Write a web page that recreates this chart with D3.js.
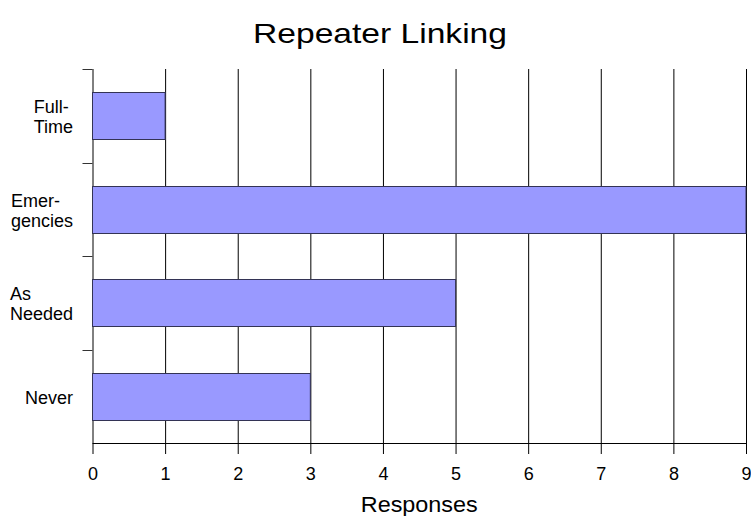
<!DOCTYPE html>
<html>
<head>
<meta charset="utf-8">
<script src="https://cdn.jsdelivr.net/npm/d3@7"></script>
<style>
  html, body { margin: 0; padding: 0; background: #fff; }
  svg { display: block; font-family: "Liberation Sans", Arial, sans-serif; }
</style>
</head>
<body>
<svg id="chart" width="751" height="516"></svg>
<script>
const categories = ["Full-Time", "Emergencies", "As Needed", "Never"];
const categoryLabels = [["Full-", "Time"], ["Emer-", "gencies"], ["As", "Needed"], ["Never"]];
const values = [1, 9, 5, 3];
const xTicks = [0, 1, 2, 3, 4, 5, 6, 7, 8, 9];
const title = "Repeater Linking";
const xTitle = "Responses";

const svg = d3.select("#chart");
const margin = { left: 92.5, right: 5, top: 69, bottom: 73 };
const W = 751, H = 516;
const plotL = margin.left, plotR = W - margin.right, plotT = margin.top, plotB = H - margin.bottom;

const x = d3.scaleLinear().domain([0, 9]).range([plotL, plotR]);
const y = d3.scaleBand().domain(categories).range([plotT, plotB]).paddingInner(0.5).paddingOuter(0.25);

// title
svg.append("text")
  .attr("x", 380).attr("y", 43)
  .attr("text-anchor", "middle")
  .attr("font-size", 28)
  .attr("textLength", 254)
  .attr("lengthAdjust", "spacingAndGlyphs")
  .attr("fill", "#000")
  .text(title);

// x axis with grid
const xAxis = svg.append("g")
  .attr("transform", `translate(0,${plotB})`)
  .call(d3.axisBottom(x).tickValues(xTicks).tickFormat(d3.format("d")).tickSize(11).tickSizeOuter(0).tickPadding(13));
xAxis.select(".domain").remove();
xAxis.selectAll(".tick line")
  .attr("y1", -(plotB - plotT)).attr("y2", 11)
  .attr("stroke", "#000").attr("stroke-width", 1);
xAxis.selectAll(".tick text")
  .attr("font-size", 18).attr("font-family", "Liberation Sans, Arial, sans-serif").attr("fill", "#000");

// bottom axis line
svg.append("line")
  .attr("x1", plotL).attr("x2", plotR)
  .attr("y1", plotB + 0.5).attr("y2", plotB + 0.5)
  .attr("stroke", "#000");

// y band boundary ticks
const gap = (y.step() - y.bandwidth()) / 2;
svg.append("g").selectAll("line")
  .data(categories)
  .join("line")
  .attr("x1", plotL - 10).attr("x2", plotL)
  .attr("y1", d => Math.round(y(d) - gap) + 0.5)
  .attr("y2", d => Math.round(y(d) - gap) + 0.5)
  .attr("stroke", "#333");

// bars
svg.append("g").selectAll("rect")
  .data(categories)
  .join("rect")
  .attr("x", x(0))
  .attr("y", d => Math.round(y(d)) + 0.5)
  .attr("width", (d, i) => x(values[i]) - x(0))
  .attr("height", Math.round(y.bandwidth()))
  .attr("fill", "#9999ff")
  .attr("stroke", "#333355")
  .attr("stroke-width", 1);

// y labels (multi-line, lines left aligned in a right-aligned block)
const labelRight = 73;
const lineH = 20;
const lg = svg.append("g").attr("font-size", 18).attr("fill", "#000");
categories.forEach((c, i) => {
  const lines = categoryLabels[i];
  const cy = y(c) + y.bandwidth() / 2;
  const t = lg.append("text").attr("y", cy - (lines.length - 1) * lineH / 2 + 7.5);
  lines.forEach((ln, j) => {
    t.append("tspan").attr("x", 0).attr("dy", j === 0 ? 0 : lineH).text(ln);
  });
  const w = t.node().getBBox().width;
  t.selectAll("tspan").attr("x", labelRight - w);
});

// x title
svg.append("text")
  .attr("x", (plotL + plotR) / 2).attr("y", 512)
  .attr("text-anchor", "middle")
  .attr("font-size", 22)
  .attr("textLength", 117)
  .attr("lengthAdjust", "spacingAndGlyphs")
  .attr("fill", "#000")
  .text(xTitle);
</script>
</body>
</html>
